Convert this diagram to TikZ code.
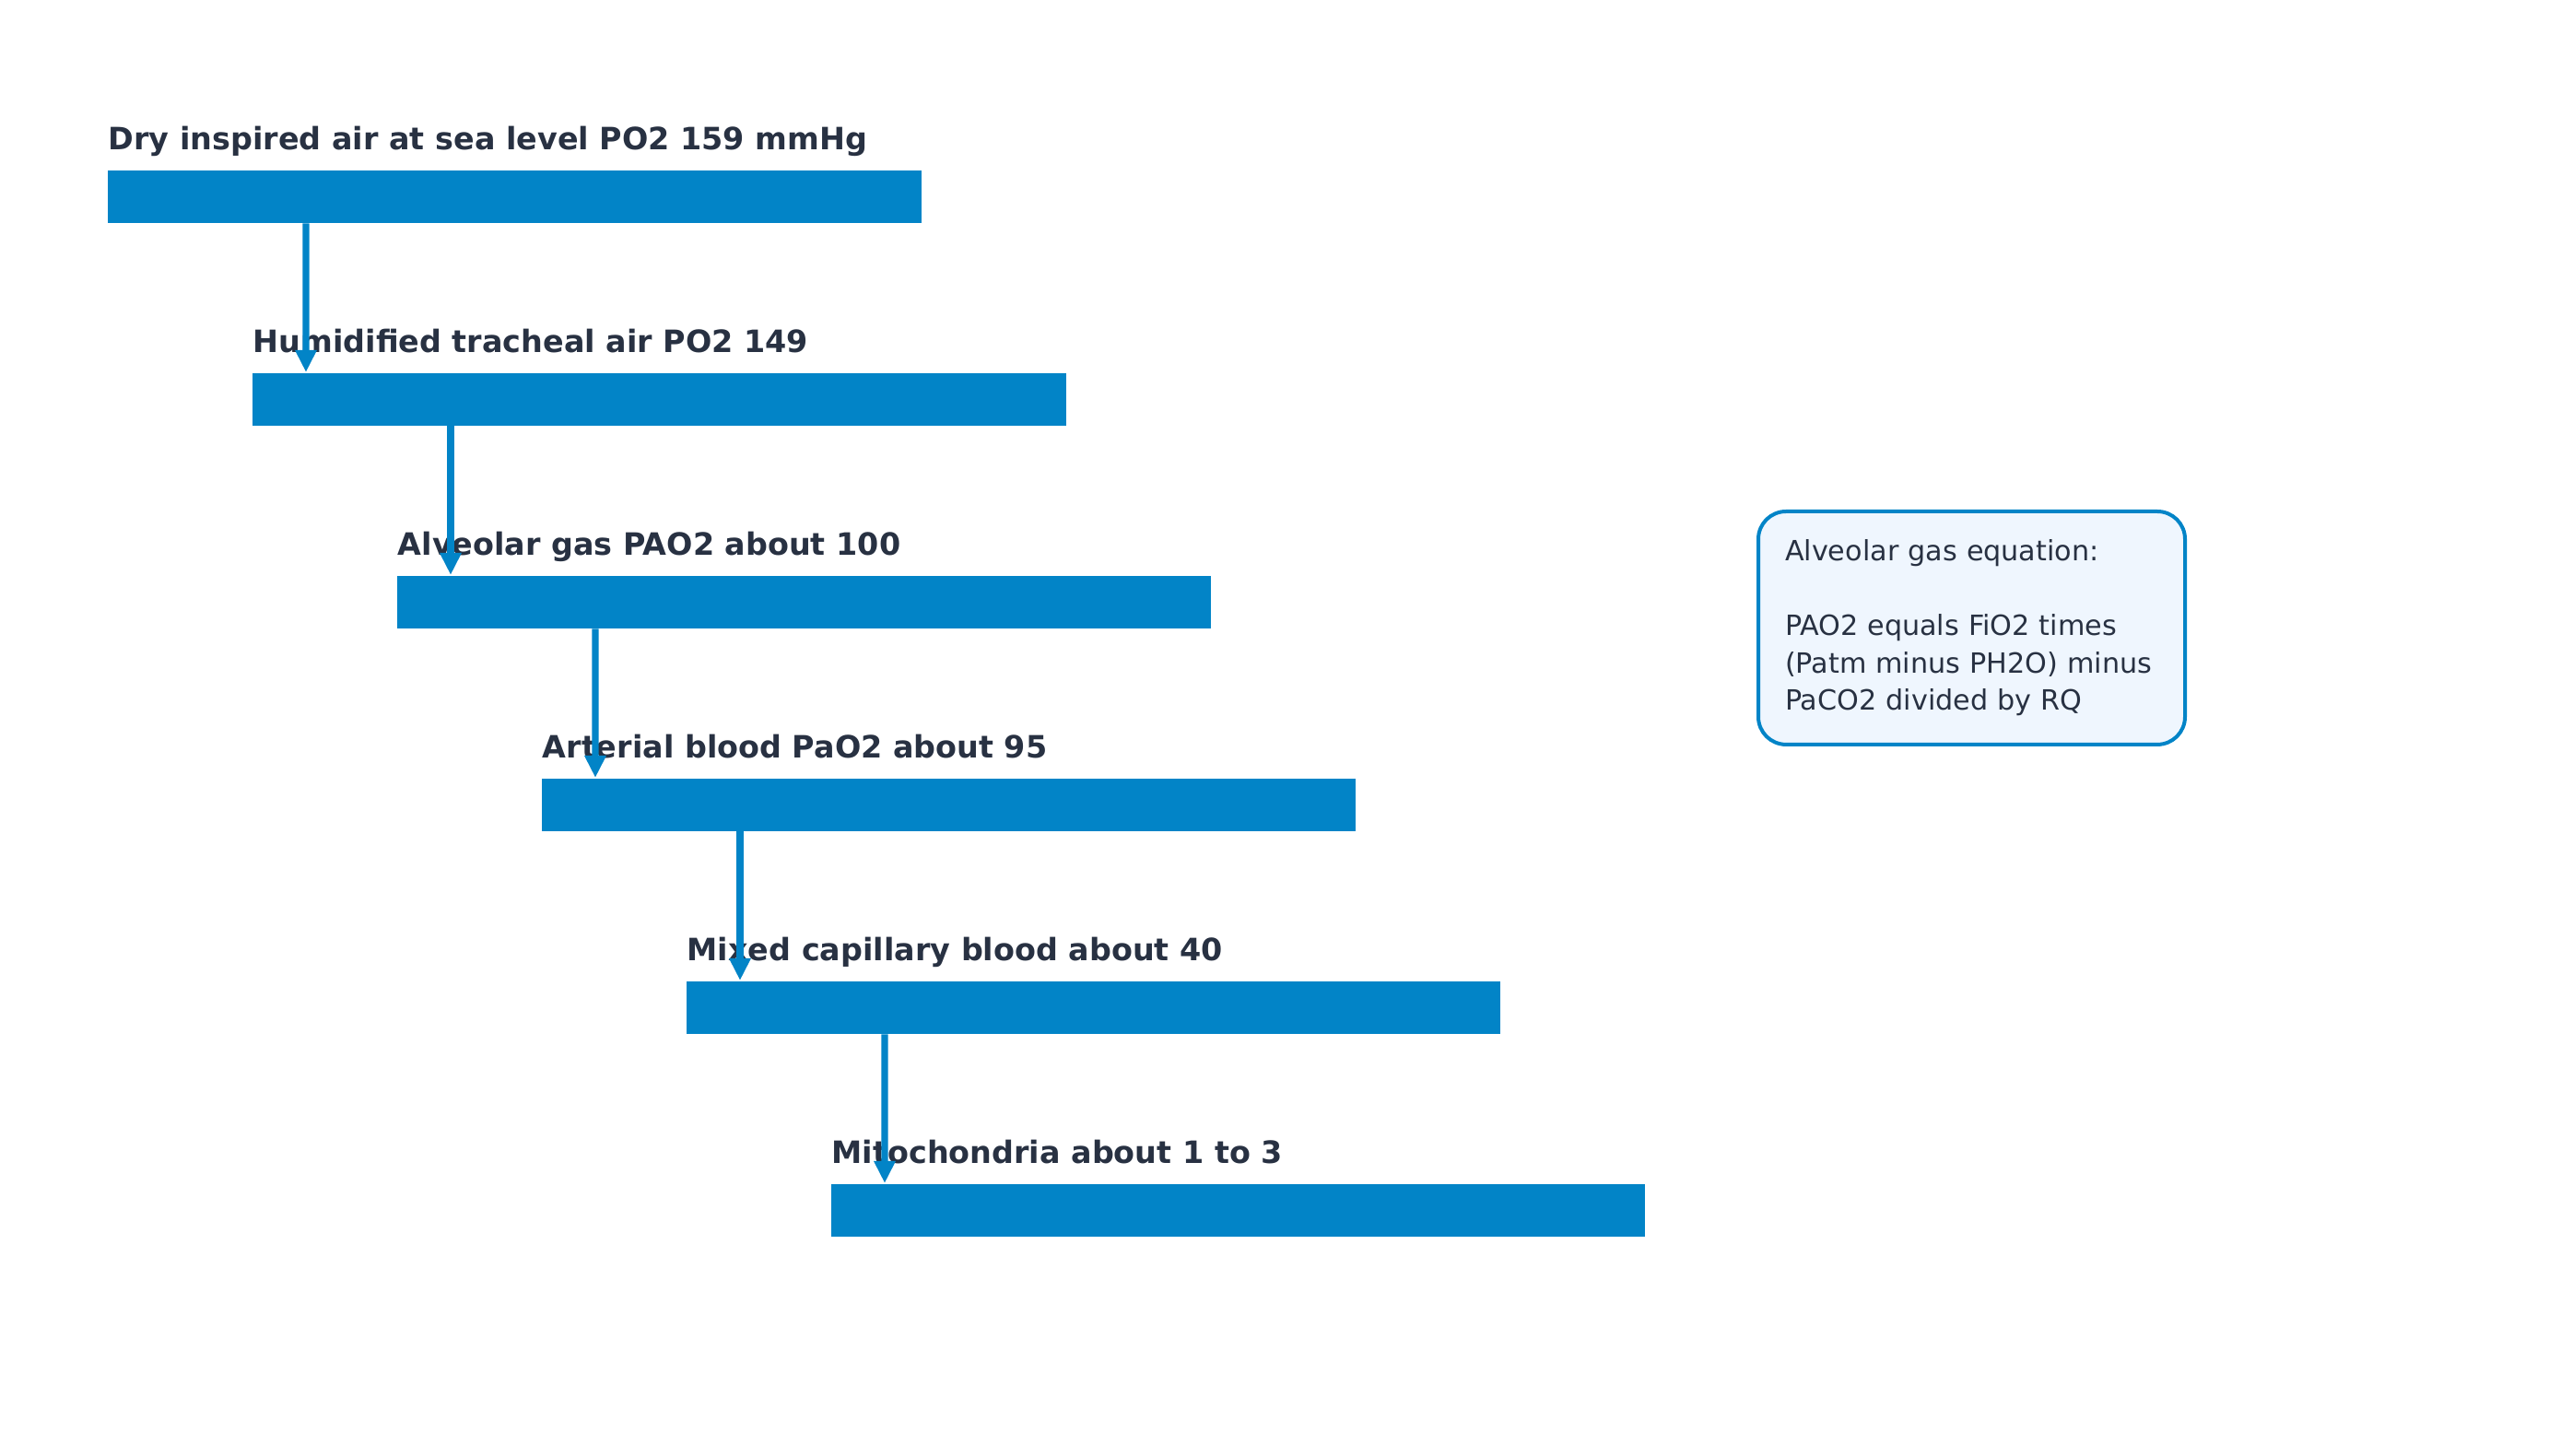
\documentclass[tikz,border=0pt]{standalone}
\usepackage{fontspec}
\setmainfont{DejaVu Sans}
\usepackage{xcolor}
\usetikzlibrary{calc}
\usetikzlibrary{arrows.meta}

\definecolor{barblue}{HTML}{0284C7}
\definecolor{inkdark}{HTML}{283142}
\definecolor{boxfill}{HTML}{EFF6FE}

\tikzset{
  bar/.style={fill=barblue, draw=none, anchor=north west, inner sep=0pt,
    minimum width=8.83cm, minimum height=0.57cm},
  lbl/.style={anchor=base west, inner sep=0pt, text=inkdark,
    font=\fontsize{9.5pt}{11pt}\selectfont\bfseries},
  flow/.style={draw=barblue, line width=2pt,
    -{Triangle[length=0.24cm,width=0.22cm]}},
  eqbox/.style={draw=barblue, line width=0.04cm, fill=boxfill,
    rounded corners=0.3cm, anchor=north west, align=left, text=inkdark,
    inner xsep=0.29cm, inner ysep=0.31cm, minimum width=4.63cm,
    text width=4.05cm, font=\fontsize{8.6pt}{11.5pt}\selectfont}
}

\begin{document}
\begin{tikzpicture}
  \useasboundingbox (0,0) rectangle (27.79,-15.80);

  % The oxygen cascade bars
  \node[bar] (air)   at (1.16,-1.84)  {};
  \node[bar] (trach) at (2.73,-4.04)  {};
  \node[bar] (alv)   at (4.30,-6.24)  {};
  \node[bar] (art)   at (5.87,-8.44)  {};
  \node[bar] (cap)   at (7.44,-10.64) {};
  \node[bar] (mito)  at (9.01,-12.84) {};

  % Labels above the bars
  \node[lbl] (lair)   at ($(air.north west)+(0.01,0.21)$)   {Dry inspired air at sea level PO2 159 mmHg};
  \node[lbl] (ltrach) at ($(trach.north west)+(0.01,0.21)$) {Humidified tracheal air PO2 149};
  \node[lbl] (lalv)   at ($(alv.north west)+(0.01,0.21)$)   {Alveolar gas PAO2 about 100};
  \node[lbl] (lart)   at ($(art.north west)+(0.01,0.21)$)   {Arterial blood PaO2 about 95};
  \node[lbl] (lcap)   at ($(cap.north west)+(0.01,0.21)$)   {Mixed capillary blood about 40};
  \node[lbl] (lmito)  at ($(mito.north west)+(0.01,0.21)$)  {Mitochondria about 1 to 3};

  % Arrows down the cascade
  \draw[flow] ($(air.south west)+(2.16,0)$)   -- ($(trach.north west)+(0.59,0)$);
  \draw[flow] ($(trach.south west)+(2.16,0)$) -- ($(alv.north west)+(0.59,0)$);
  \draw[flow] ($(alv.south west)+(2.16,0)$)   -- ($(art.north west)+(0.59,0)$);
  \draw[flow] ($(art.south west)+(2.16,0)$)   -- ($(cap.north west)+(0.59,0)$);
  \draw[flow] ($(cap.south west)+(2.16,0)$)   -- ($(mito.north west)+(0.59,0)$);

  % Equation box
  \node[eqbox] (eq) at (19.06,-5.53) {Alveolar gas equation:\\[11.5pt]
    PAO2 equals FiO2 times\\
    (Patm minus PH2O) minus\\
    PaCO2 divided by RQ};
\end{tikzpicture}
\end{document}
